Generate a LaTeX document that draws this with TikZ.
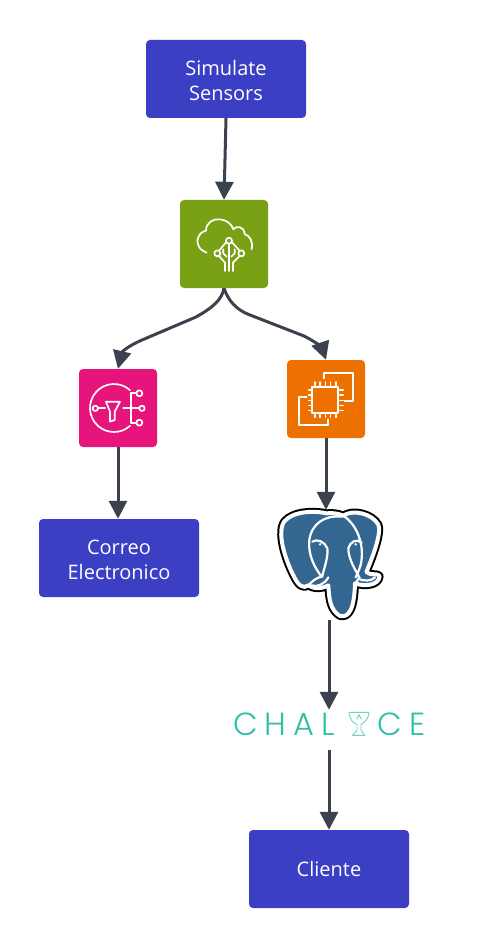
\documentclass[tikz,border=0pt]{standalone}
\usepackage{fontspec}
\setmainfont{Open Sans}
\newfontfamily\chalfont[LetterSpace=22]{Poppins Light}
\usetikzlibrary{arrows.meta}
\newcommand{\topstrut}{\rule{0pt}{18.5pt}}
\definecolor{boxblue}{HTML}{3B3FC4}
\definecolor{conn}{HTML}{3B424E}
\definecolor{iotgreen}{HTML}{7AA116}
\definecolor{snspink}{HTML}{E7157B}
\definecolor{ecorange}{HTML}{ED7100}
\definecolor{pgblue}{HTML}{336791}
\definecolor{chalteal}{HTML}{30C0A2}
\tikzset{
  bluebox/.style={fill=boxblue,rounded corners=4pt,minimum width=160pt,minimum height=78pt,inner sep=0pt,align=center,text=white,font=\fontsize{20}{25}\selectfont},
  iconbox/.style={fill=#1,rounded corners=4pt,inner sep=0pt},
  conline/.style={draw=conn,line width=3pt,-{Triangle[length=18pt,width=18pt]}},
  icon/.style={draw=white,line width=1.7pt,line cap=round,line join=round},
  ghost/.style={inner sep=0pt}
}
\begin{document}
\begin{tikzpicture}[x=1pt,y=-1pt]
\useasboundingbox (0,0) rectangle (500,949);
\fill[white] (0,0) rectangle (500,949);

\node[bluebox] (sim) at (226,79) {\topstrut Simulate\\Sensors};
\node[iconbox=iotgreen,minimum width=88pt,minimum height=88pt] (iot) at (224,244) {};
\node[iconbox=snspink,minimum width=78pt,minimum height=78pt] (sns) at (118,408) {};
\node[iconbox=ecorange,minimum width=78pt,minimum height=78pt] (ec) at (326,399) {};
\node[bluebox] (mail) at (119,558) {\topstrut Correo\\Electronico};
\node[ghost,minimum width=106pt,minimum height=110pt] (pg) at (329,565) {};
\node[ghost,minimum width=190pt,minimum height=40pt] (chal) at (329,730) {};
\node[bluebox] (cli) at (329,869) {Cliente};

% connectors
\draw[conline] (sim.south) -- (iot.north);
\draw[conline] (iot.south) .. controls (222,300) and (212,308) .. (196,317) -- (142,340) .. controls (128,346) and (122,352) .. (sns.north);
\draw[conline] (iot.south) .. controls (228,300) and (236,310) .. (250,315) -- (304,336) .. controls (316,342) and (322,348) .. (ec.north);
\draw[conline] (sns.south) -- (sns.south |- mail.north);
\draw[conline] (ec.south) -- (pg.north -| ec.south);
\draw[conline] (pg.south) -- (chal.north);
\draw[conline] (chal.south) -- (cli.north);

% IoT icon
\begin{scope}[shift={(170,190)},scale=1/3]
\draw[icon] plot[smooth,tension=.6] coordinates {(110,188) (90,175) (82,152) (92,130) (108,122)};
\draw[icon] (108,122) .. controls (108,98) and (130,85) .. (150,88) .. controls (170,90) and (185,102) .. (190,118) .. controls (198,106) and (222,108) .. (224,132) .. controls (240,138) and (250,155) .. (245,178);
\draw[icon] (177,152) circle (9);
\draw[icon] (142,190) circle (9);
\draw[icon] (214,190) circle (9);
\draw[icon] (168,157) -- (148,181) (186,157) -- (208,181);
\draw[icon] (177,161) -- (177,243);
\draw[icon] (147,198) -- (165,218) -- (165,243);
\draw[icon] (209,198) -- (189,218) -- (189,243);
\draw[icon] (160,178) -- (160,190) -- (170,200) (194,178) -- (194,190) -- (184,200);
\end{scope}

% SNS icon
\begin{scope}[shift={(70,290)},scale=1/3]
\draw[icon] (132+72*0.669,354-72*0.743) arc[start angle=-48,end angle=-312,radius=72];
\draw[icon,fill=snspink] (76,355) circle (8);
\draw[icon] (84,355) -- (105,355);
\draw[icon] (108,335) -- (150,335) -- (134,365) -- (134,390) -- (120,395) -- (120,365) -- cycle;
\draw[icon] (160,355) -- (208,355);
\draw[icon] (216,355) circle (8);
\draw[icon] (200,310) -- (182,310) -- (182,398) -- (200,398);
\draw[icon] (208,310) circle (9);
\draw[icon] (208,398) circle (9);
\end{scope}

% EC2 icon
\begin{scope}[shift={(70,290)},scale=1/3]
\draw[icon] (727,292) rectangle (805,370);
\foreach \p in {735,750,766,782,798}{
  \draw[icon,line width=1.4pt] (\p,276) -- (\p,288) (\p,374) -- (\p,382);
}
\foreach \p in {300,315,331,347,362}{
  \draw[icon,line width=1.4pt] (716,\p) -- (723,\p) (809,\p) -- (820,\p);
}
\draw[icon] (762,265) -- (762,248) -- (848,248) -- (848,333) -- (824,333);
\draw[icon] (710,320) -- (688,320) -- (688,405) -- (775,405) -- (775,388);
\end{scope}

% PostgreSQL elephant
\begin{scope}[shift={(265,500)},scale=1/3]
\def\elephant{(185,40) .. controls (150,32) and (85,32) .. (58,64) .. controls (35,95) and (58,175) .. (88,232) .. controls (100,256) and (115,268) .. (130,256) .. controls (142,266) and (170,268) .. (190,256) .. controls (192,295) and (195,330) .. (225,348) .. controls (253,354) and (268,325) .. (270,250) .. controls (295,260) and (342,258) .. (344,228) .. controls (338,218) and (316,228) .. (304,216) .. controls (328,160) and (350,95) .. (340,74) .. controls (323,42) and (265,26) .. (235,47) .. controls (220,40) and (200,38) .. (185,40) -- cycle}
\draw[black,line width=8pt,line join=round] \elephant;
\draw[white,line width=4pt,fill=pgblue,line join=round] \elephant;
\draw[white,line width=2.2pt,line cap=round,fill=none]
  (230,50) .. controls (180,45) and (140,70) .. (133,120) .. controls (128,165) and (150,205) .. (170,230) .. controls (155,232) and (140,245) .. (130,256)
  (235,47) .. controls (270,70) and (295,120) .. (290,175) .. controls (288,200) and (280,215) .. (272,232)
  (142,125) .. controls (155,115) and (180,125) .. (187,145) .. controls (190,170) and (180,195) .. (172,228)
  (290,128) .. controls (275,115) and (255,125) .. (250,145) .. controls (250,175) and (268,205) .. (283,232) -- (272,250)
  (140,256) .. controls (155,263) and (180,252) .. (190,232)
  (280,236) .. controls (295,244) and (320,244) .. (330,232);
\fill[white] (165,133) circle (4);
\fill[white] (272,133) circle (4);
\end{scope}

% Chalice wordmark
\node[anchor=base west,inner sep=0pt,text=chalteal,font=\chalfont\fontsize{32}{32}\selectfont] (chalA) at (233,735) {CHAL};
\node[anchor=base west,inner sep=0pt,text=chalteal,font=\chalfont\fontsize{32}{32}\selectfont] (chalB) at (377.5,735) {CE};
\begin{scope}[shift={(225,700)},scale=1/3,chalteal!70,line width=.9pt,line join=round]
\draw (372,37) -- (432,37) .. controls (430,60) and (415,70) .. (408,73) -- (408,90) .. controls (410,98) and (418,102) .. (420,106) -- (382,106) .. controls (385,102) and (393,98) .. (396,90) -- (396,73) .. controls (385,70) and (374,60) .. (372,37) -- cycle;
\draw (395,58) -- (402,44) -- (409,58);
\end{scope}
\end{tikzpicture}
\end{document}
